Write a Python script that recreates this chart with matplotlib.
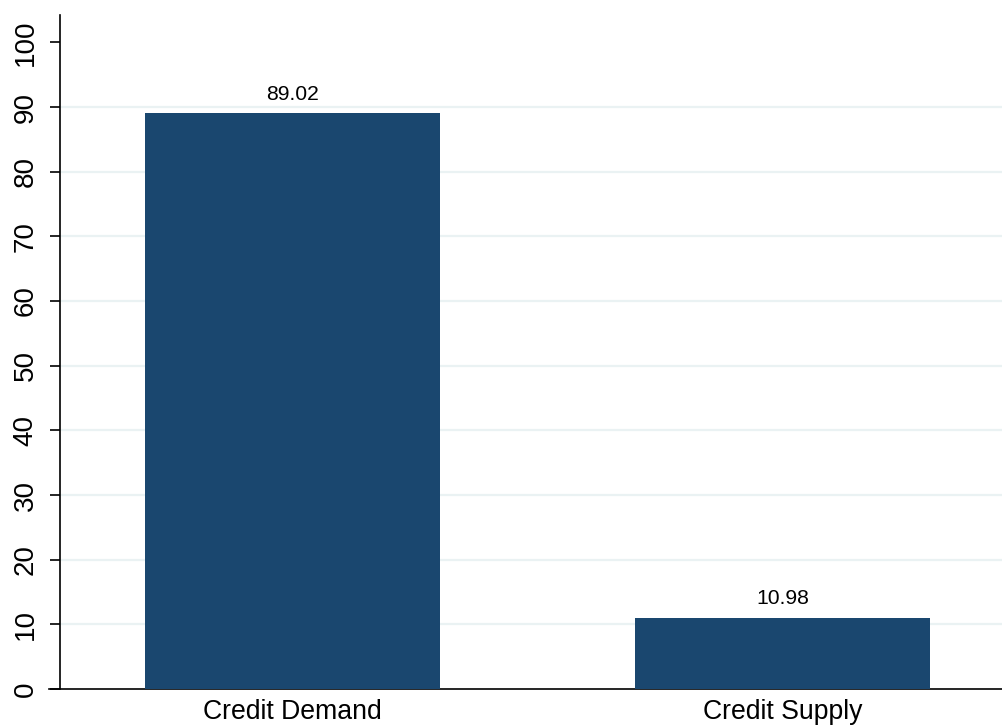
import matplotlib.pyplot as plt
import numpy as np

categories = ['Credit Demand', 'Credit Supply']
values = [89.02, 10.98]
yticks = [0, 10, 20, 30, 40, 50, 60, 70, 80, 90, 100]

plt.rcParams['font.family'] = ['Liberation Sans', 'DejaVu Sans']

fig = plt.figure(figsize=(10.03, 7.26), dpi=100)
ax = fig.add_axes([0.0598, 0.051, 0.9402, 0.928])

x = np.arange(len(categories))
bars = ax.bar(x, values, width=0.601, color='#1a476f', zorder=3)

for b, v in zip(bars, values):
    ax.annotate(f'{v:.2f}', (b.get_x() + b.get_width() / 2, v),
                xytext=(0, 7), textcoords='offset points',
                ha='center', va='bottom', fontsize=15.2)

# light horizontal grid, no line at 0/100
for t in yticks[1:-1]:
    ax.axhline(t, color='#eaf2f3', lw=1.6, zorder=1)

ax.set_xlim(-0.474, 1.449)
ax.set_ylim(0, 104.2)
ax.set_yticks(yticks)
ax.set_yticklabels([str(t) for t in yticks], rotation=90, va='center', fontsize=20)
ax.set_xticks(x)
ax.set_xticklabels(categories, fontsize=19.2)

ax.tick_params(axis='y', length=7.5, width=1.2, pad=8)
ax.tick_params(axis='x', length=0, pad=7)

ax.spines['top'].set_visible(False)
ax.spines['right'].set_visible(False)
ax.spines['left'].set_linewidth(1.2)
ax.spines['bottom'].set_linewidth(1.2)
ax.spines['bottom'].set_bounds(-0.474 - 11 / 490.5, 1.449)
ax.spines['bottom'].set_clip_on(False)

fig.savefig('out.png', dpi=100)
